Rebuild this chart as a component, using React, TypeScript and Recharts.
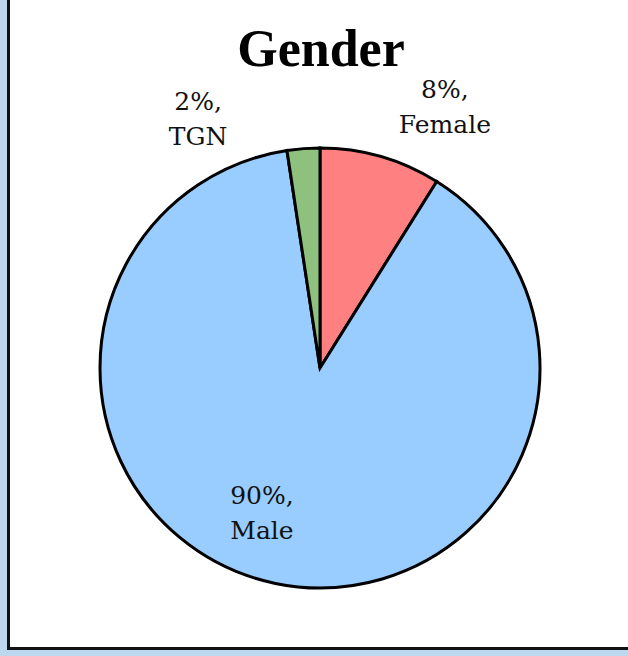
import React from "react";
import { PieChart, Pie, Cell } from "recharts";

const categories = ["Female", "Male", "TGN"];
const shares = [8.9, 88.7, 2.4];
const shareLabels = ["8%", "90%", "2%"];
const colors = ["#FF8080", "#99CCFF", "#8EC07E"];

const data = categories.map((name, i) => ({
  name,
  value: shares[i],
  text: shareLabels[i],
}));

// label placement: angle (deg, 0 = up, clockwise) and distance from centre
const labelSpot: Record<string, { a: number; r: number }> = {
  Female: { a: 25.5, r: 290 },
  Male: { a: 202, r: 155 },
  TGN: { a: -26, r: 278 },
};

const FONT = "'DejaVu Serif', serif";

function renderLabel(props: any) {
  const { cx, cy, payload } = props;
  const spot = labelSpot[payload.name];
  const rad = (spot.a * Math.PI) / 180;
  const x = cx + spot.r * Math.sin(rad);
  const y = cy - spot.r * Math.cos(rad);
  return (
    <text
      x={x}
      y={y}
      textAnchor="middle"
      fontFamily={FONT}
      fontSize={25}
      fill="#111"
    >
      <tspan x={x} dy={-8}>
        {payload.text},
      </tspan>
      <tspan x={x} dy={35}>
        {payload.name}
      </tspan>
    </text>
  );
}

export default function App() {
  return (
    <div
      style={{
        position: "absolute",
        left: 0,
        top: 0,
        width: 628,
        height: 656,
        background: "#BDD7EE",
        overflow: "hidden",
      }}
    >
      <div
        style={{
          position: "absolute",
          left: 7,
          top: -4,
          width: 640,
          height: 654,
          background: "#fff",
          borderLeft: "3px solid #111",
          borderBottom: "3px solid #111",
          boxSizing: "border-box",
        }}
      />
      <div style={{ position: "absolute", left: 0, top: 0 }}>
        <PieChart
          width={628}
          height={656}
          margin={{ top: 0, right: 0, bottom: 0, left: 0 }}
        >
          <text
            x={321}
            y={66}
            textAnchor="middle"
            fontFamily="'Liberation Serif', serif"
            fontWeight="bold"
            fontSize={52}
            fill="#000"
          >
            Gender
          </text>
          <Pie
            data={data}
            dataKey="value"
            nameKey="name"
            cx={320}
            cy={368}
            outerRadius={220}
            startAngle={90}
            endAngle={-270}
            stroke="#000"
            strokeWidth={3}
            label={renderLabel}
            labelLine={false}
            isAnimationActive={false}
          >
            {data.map((d, i) => (
              <Cell key={d.name} fill={colors[i]} />
            ))}
          </Pie>
        </PieChart>
      </div>
    </div>
  );
}
